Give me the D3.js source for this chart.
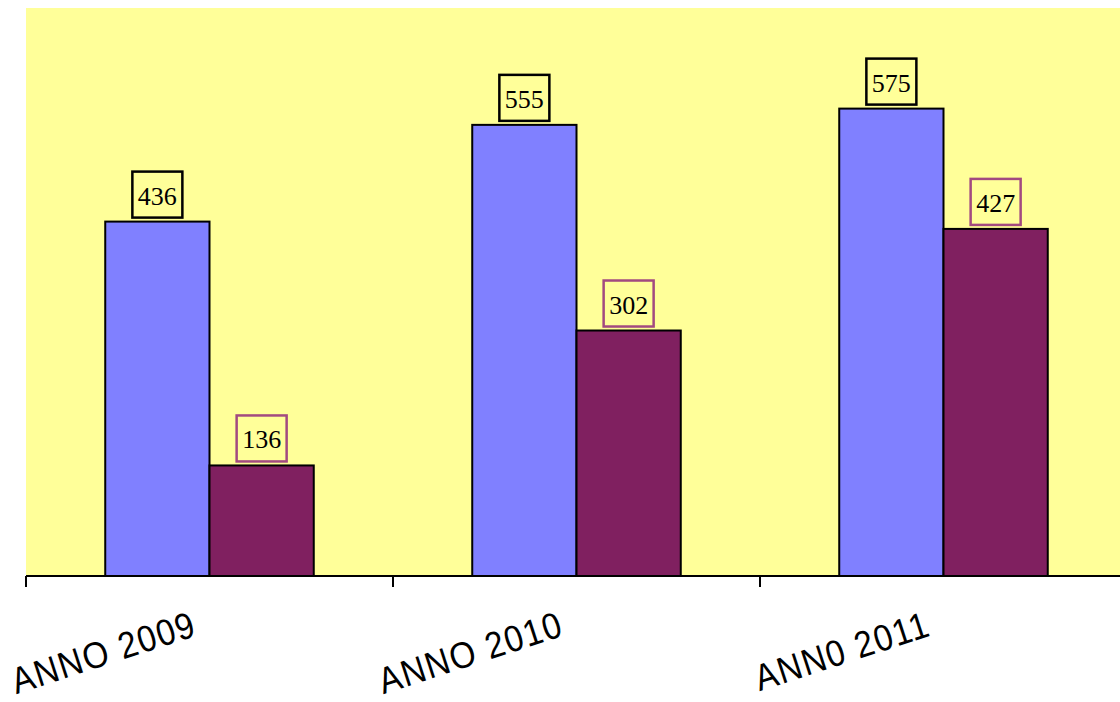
<!DOCTYPE html>
<html>
<head>
<meta charset="utf-8">
<script src="https://cdn.jsdelivr.net/npm/d3@7"></script>
<style>
  html, body { margin: 0; padding: 0; background: #ffffff; }
  svg { display: block; }
</style>
</head>
<body>
<svg id="chart" width="1120" height="702"></svg>
<script>
// Years shown on the category axis
const categories = ["ANNO 2009", "ANNO 2010", "ANN0 2011"];
// Two series per year
const seriesNames = ["serie1", "serie2"];
const serie1 = [436, 555, 575];
const serie2 = [136, 302, 427];

const seriesColors = ["#8080ff", "#802060"];
const labelBorders = ["#000000", "#a24a80"];

const svg = d3.select("#chart");
const plot = { left: 26, right: 1127, top: 8, bottom: 576 };

const x = d3.scaleBand()
  .domain(categories)
  .range([plot.left, plot.right])
  .paddingInner(0)
  .paddingOuter(0);

const inner = d3.scaleBand()
  .domain(seriesNames)
  .range([0, x.bandwidth()])
  .paddingOuter(0.76);

const y = d3.scaleLinear().domain([0, 700]).range([plot.bottom, plot.top - 1]);

// plot area background
svg.append("rect")
  .attr("x", plot.left).attr("y", plot.top)
  .attr("width", plot.right - plot.left)
  .attr("height", plot.bottom - plot.top)
  .attr("fill", "#ffff99");

const rows = categories.map((c, i) => ({
  cat: c,
  values: [
    { s: seriesNames[0], v: serie1[i], k: 0 },
    { s: seriesNames[1], v: serie2[i], k: 1 }
  ]
}));

const groups = svg.selectAll("g.year")
  .data(rows)
  .join("g")
  .attr("class", "year")
  .attr("transform", d => `translate(${x(d.cat)},0)`);

groups.selectAll("rect.bar")
  .data(d => d.values)
  .join("rect")
  .attr("class", "bar")
  .attr("x", d => inner(d.s))
  .attr("y", d => y(d.v))
  .attr("width", inner.bandwidth())
  .attr("height", d => y(0) - y(d.v))
  .attr("fill", d => seriesColors[d.k])
  .attr("stroke", "#000")
  .attr("stroke-width", 2);

// value labels in framed boxes above each bar
const lab = groups.selectAll("g.val")
  .data(d => d.values)
  .join("g")
  .attr("class", "val")
  .attr("transform", d => `translate(${inner(d.s) + inner.bandwidth() / 2},${y(d.v) - 4})`);

lab.append("text")
  .attr("text-anchor", "middle")
  .attr("y", -13)
  .attr("font-family", "'Liberation Serif', 'Times New Roman', serif")
  .attr("font-size", 26)
  .attr("fill", "#000")
  .text(d => d.v);

lab.each(function(d) {
  const g = d3.select(this);
  const w = Math.round(g.select("text").node().getComputedTextLength() + 11);
  g.insert("rect", "text")
    .attr("x", -w / 2).attr("y", -46)
    .attr("width", w).attr("height", 46)
    .attr("fill", "none")
    .attr("stroke", labelBorders[d.k])
    .attr("stroke-width", 2.5);
});

// category axis
svg.append("line")
  .attr("x1", plot.left).attr("x2", 1120)
  .attr("y1", plot.bottom).attr("y2", plot.bottom)
  .attr("stroke", "#000").attr("stroke-width", 2);

svg.selectAll("line.tick")
  .data(categories)
  .join("line")
  .attr("class", "tick")
  .attr("x1", d => x(d)).attr("x2", d => x(d))
  .attr("y1", plot.bottom).attr("y2", plot.bottom + 11)
  .attr("stroke", "#000").attr("stroke-width", 2);

// slanted category labels
svg.selectAll("text.cat")
  .data(categories)
  .join("text")
  .attr("class", "cat")
  .attr("text-anchor", "end")
  .attr("transform", d => `translate(${x(d) + x.bandwidth() / 2 - 11},635) rotate(-18) scale(0.9,1)`)
  .attr("font-family", "'Liberation Sans', Arial, sans-serif")
  .attr("font-size", 37)
  .attr("letter-spacing", 1.5)
  .attr("fill", "#000")
  .text(d => d);
</script>
</body>
</html>
